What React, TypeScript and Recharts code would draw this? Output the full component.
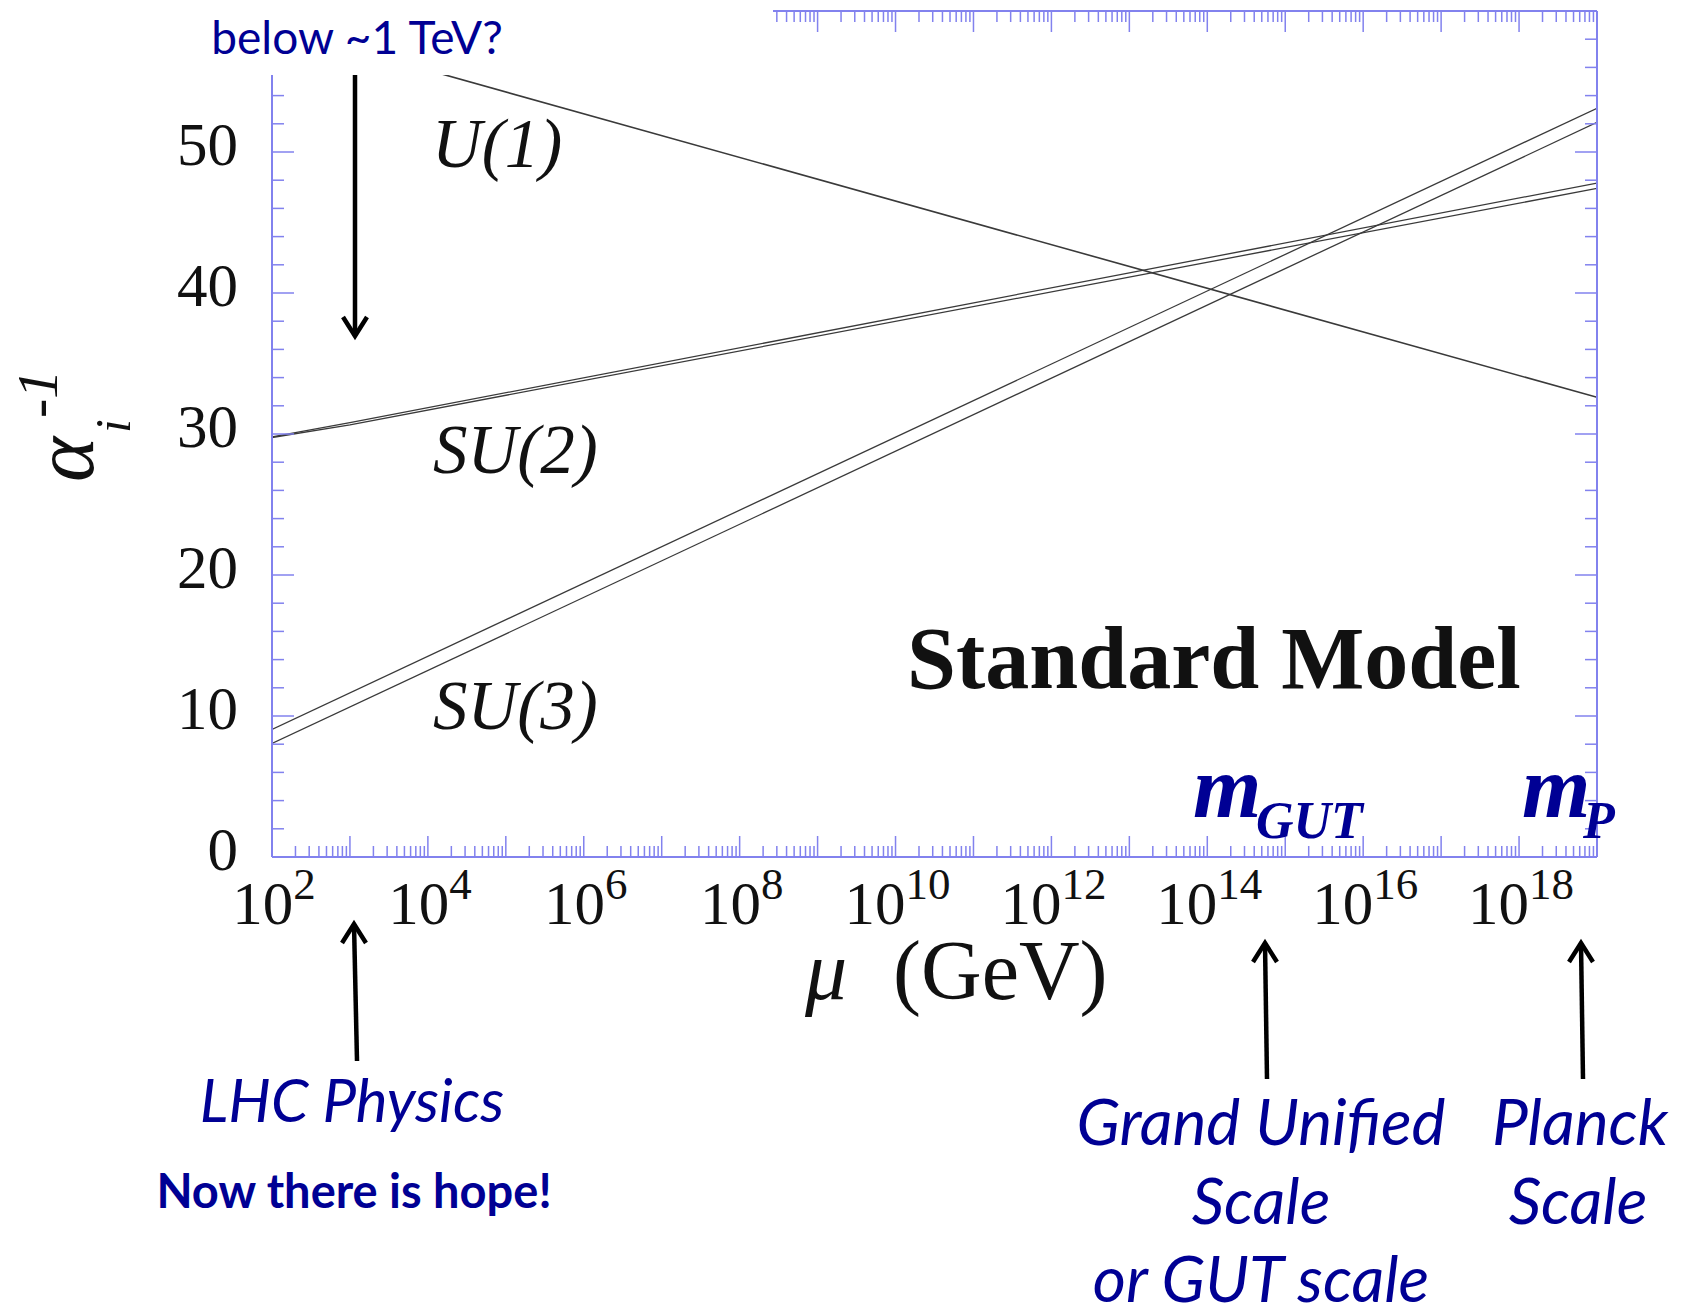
import { Line, LineChart, XAxis, YAxis } from "recharts";

const W = 1684;
const H = 1308;

const NAVY = "#000094";
const AXIS = "#8282ee";
const CURVE = "#3a3a3a";
const SERIF = '"Liberation Serif", "Times New Roman", serif';
const SANS = 'Lato, "Open Sans", sans-serif';

// scale mu in GeV, inverse couplings alpha_i^-1
const U1_MU = [1e2, 1e19];
const U1_INV = [58.9, 32.6];

const SU2_MU = [1e2, 1e3, 1e19];
const SU2_INV_HI = [29.8, 30.8, 47.8];
const SU2_INV_LO = [29.75, 30.65, 47.42];

const SU3_MU = [1e2, 1e19];
const SU3_INV_HI = [9.05, 53.1];
const SU3_INV_LO = [8.05, 52.1];

// axis ticks
const DECADES = [2, 3, 4, 5, 6, 7, 8, 9, 10, 11, 12, 13, 14, 15, 16, 17, 18, 19];
const X_LABEL_EXP = [2, 4, 6, 8, 10, 12, 14, 16, 18];
const Y_TICKS = [0, 2, 4, 6, 8, 10, 12, 14, 16, 18, 20, 22, 24, 26, 28, 30, 32, 34, 36, 38, 40, 42, 44, 46, 48, 50, 52, 54, 56, 58, 60];
const Y_LABELS = [0, 10, 20, 30, 40, 50];

const X_DOMAIN: [number, number] = [1e2, 1e19];
const Y_DOMAIN: [number, number] = [0, 60];

// every decade plus the 2..9 subdivisions
const LOG_TICKS: number[] = [];
DECADES.forEach((e) => {
  const base = Math.pow(10, e);
  if (e === 19) {
    LOG_TICKS.push(base);
    return;
  }
  for (let k = 1; k <= 9; k++) LOG_TICKS.push(k * base);
});

const toPoints = (mu: number[], v: number[]) => mu.map((m, i) => ({ mu: m, v: v[i] }));

const u1 = toPoints(U1_MU, U1_INV);
const su2Hi = toPoints(SU2_MU, SU2_INV_HI);
const su2Lo = toPoints(SU2_MU, SU2_INV_LO);
const su3Hi = toPoints(SU3_MU, SU3_INV_HI);
const su3Lo = toPoints(SU3_MU, SU3_INV_LO);

function decadeOf(v: number) {
  const e = Math.log10(v);
  const r = Math.round(e);
  return Math.abs(e - r) < 1e-6 ? r : null;
}

function BottomTick({ x, y, payload }: any) {
  const exp = decadeOf(payload.value);
  const len = exp !== null ? 21 : 11;
  return (
    <g>
      <line x1={x} y1={y} x2={x} y2={y - len} stroke={AXIS} strokeWidth={1.5} />
      {exp !== null && X_LABEL_EXP.includes(exp) && (
        <text x={x + 2} y={y + 67} textAnchor="middle" fontFamily={SERIF} fill="#111">
          <tspan fontSize={61}>10</tspan>
          <tspan fontSize={45} dy={-25}>
            {exp}
          </tspan>
        </text>
      )}
    </g>
  );
}

function TopTick({ x, y, payload }: any) {
  const len = decadeOf(payload.value) !== null ? 21 : 11;
  return <line x1={x} y1={y} x2={x} y2={y + len} stroke={AXIS} strokeWidth={1.5} />;
}

function LeftTick({ x, y, payload }: any) {
  const major = payload.value % 10 === 0;
  return (
    <g>
      <line x1={x} y1={y} x2={x + (major ? 22 : 12)} y2={y} stroke={AXIS} strokeWidth={1.5} />
      {Y_LABELS.includes(payload.value) && (
        <text x={x - 34} y={y + 13} textAnchor="end" fontFamily={SERIF} fontSize={61} fill="#111">
          {payload.value}
        </text>
      )}
    </g>
  );
}

function RightTick({ x, y, payload }: any) {
  const major = payload.value % 10 === 0;
  return <line x1={x - (major ? 22 : 12)} y1={y} x2={x} y2={y} stroke={AXIS} strokeWidth={1.5} />;
}

function Arrow({ x1, y1, x2, y2 }: { x1: number; y1: number; x2: number; y2: number }) {
  const dir = y2 > y1 ? 1 : -1;
  return (
    <g stroke="#000" strokeWidth={4.5} fill="none">
      <line x1={x1} y1={y1} x2={x2} y2={y2} />
      <polyline points={`${x2 - 12},${y2 - dir * 19} ${x2},${y2} ${x2 + 12},${y2 - dir * 19}`} />
    </g>
  );
}

const axisLine = { stroke: AXIS, strokeWidth: 2 };

export default function App() {
  return (
    <div
      style={{
        position: "absolute",
        left: 0,
        top: 0,
        width: W,
        height: H,
        background: "#fff",
        overflow: "hidden",
      }}
    >
      <LineChart width={W} height={H} margin={{ top: 10, right: 86, bottom: 0, left: 0 }}>
        <XAxis
          xAxisId="b"
          dataKey="mu"
          type="number"
          scale="log"
          domain={X_DOMAIN}
          allowDataOverflow
          ticks={LOG_TICKS}
          interval={0}
          height={451}
          tickSize={0}
          tickMargin={0}
          tick={BottomTick}
          axisLine={axisLine}
        />
        <XAxis
          xAxisId="t"
          orientation="top"
          dataKey="mu"
          type="number"
          scale="log"
          domain={X_DOMAIN}
          allowDataOverflow
          ticks={LOG_TICKS}
          interval={0}
          height={1}
          tickSize={0}
          tickMargin={0}
          tick={TopTick}
          axisLine={axisLine}
        />
        <YAxis
          yAxisId="l"
          type="number"
          domain={Y_DOMAIN}
          allowDataOverflow
          ticks={Y_TICKS}
          interval={0}
          width={272}
          tickSize={0}
          tickMargin={0}
          tick={LeftTick}
          axisLine={axisLine}
        />
        <YAxis
          yAxisId="r"
          orientation="right"
          type="number"
          domain={Y_DOMAIN}
          allowDataOverflow
          ticks={Y_TICKS}
          interval={0}
          width={1}
          tickSize={0}
          tickMargin={0}
          tick={RightTick}
          axisLine={axisLine}
        />
        <Line data={u1} dataKey="v" xAxisId="b" yAxisId="l" stroke={CURVE} strokeWidth={1.6} dot={false} isAnimationActive={false} />
        <Line data={su2Hi} dataKey="v" xAxisId="b" yAxisId="l" stroke={CURVE} strokeWidth={1.3} dot={false} isAnimationActive={false} />
        <Line data={su2Lo} dataKey="v" xAxisId="b" yAxisId="l" stroke={CURVE} strokeWidth={1.3} dot={false} isAnimationActive={false} />
        <Line data={su3Hi} dataKey="v" xAxisId="b" yAxisId="l" stroke={CURVE} strokeWidth={1.3} dot={false} isAnimationActive={false} />
        <Line data={su3Lo} dataKey="v" xAxisId="b" yAxisId="l" stroke={CURVE} strokeWidth={1.3} dot={false} isAnimationActive={false} />
      </LineChart>

      <svg width={W} height={H} style={{ position: "absolute", left: 0, top: 0, pointerEvents: "none" }}>
        {/* caption box over the top-left corner of the frame */}
        <rect x={0} y={0} width={773} height={75} fill="#fff" />
        <text x={357} y={54} textAnchor="middle" fontFamily={SANS} fontSize={46} fill={NAVY}>
          below ~1 TeV?
        </text>

        <Arrow x1={355} y1={75} x2={355} y2={336} />
        <Arrow x1={357} y1={1061} x2={354} y2={924} />
        <Arrow x1={1267} y1={1079} x2={1265} y2={943} />
        <Arrow x1={1583} y1={1079} x2={1581} y2={943} />

        <g fontFamily={SERIF} fontStyle="italic" fontSize={69} fill="#111">
          <text x={432} y={167}>U(1)</text>
          <text x={433} y={473}>SU(2)</text>
          <text x={433} y={729}>SU(3)</text>
        </g>
        <text x={907} y={688} fontFamily={SERIF} fontWeight="bold" fontSize={88} fill="#111">
          Standard Model
        </text>

        <g fontFamily={SERIF} fontStyle="italic" fontWeight="bold" fill={NAVY}>
          <text x={1193} y={817} fontSize={88}>m</text>
          <text x={1256} y={838} fontSize={52}>GUT</text>
          <text x={1522} y={817} fontSize={88}>m</text>
          <text x={1583} y={838} fontSize={52}>P</text>
        </g>

        {/* axis titles */}
        <g fontFamily={SERIF} fill="#111">
          <text x={805} y={999} fontSize={84} fontStyle="italic">μ</text>
          <text x={893} y={999} fontSize={84}>(GeV)</text>
        </g>
        <g transform="translate(93, 482) rotate(-90)" fontFamily={SERIF} fontStyle="italic" fill="#111">
          <text x={0} y={0} fontSize={86}>α</text>
          <text x={49} y={37} fontSize={50}>i</text>
          <text x={64} y={-36} fontSize={58}>-1</text>
        </g>

        <g fontFamily={SANS} fill={NAVY} textAnchor="middle">
          <text x={352} y={1122} fontSize={60} fontStyle="italic">LHC Physics</text>
          <text x={354} y={1208} fontSize={47} fontWeight="bold">Now there is hope!</text>
          <g fontSize={64} fontStyle="italic">
            <text x={1261} y={1145}>Grand Unified</text>
            <text x={1261} y={1224}>Scale</text>
            <text x={1261} y={1302}>or GUT scale</text>
            <text x={1580} y={1145}>Planck</text>
            <text x={1578} y={1224}>Scale</text>
          </g>
        </g>
      </svg>
    </div>
  );
}
